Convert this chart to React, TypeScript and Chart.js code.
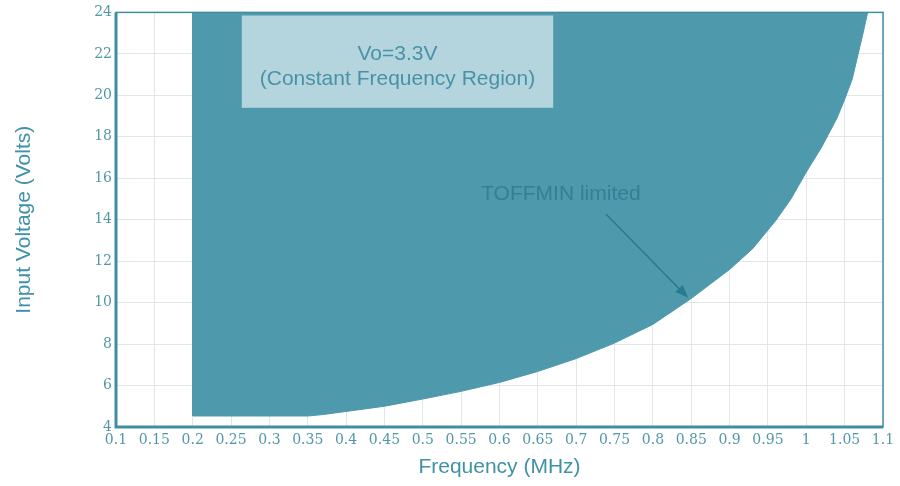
import React, { useEffect, useRef } from 'react';
import { Chart, registerables } from 'chart.js';

Chart.register(...registerables);

// Boundary of the allowed operating region (frequency in MHz, input voltage in V)
const boundaryFreq = [0.2, 0.2, 0.35, 0.37, 0.4, 0.45, 0.5, 0.55, 0.6, 0.65, 0.7, 0.75, 0.8, 0.85, 0.9, 0.93, 0.96, 0.98, 1.0, 1.02, 1.04, 1.05, 1.06, 1.067, 1.074, 1.08];
const boundaryVolt = [24, 4.53, 4.53, 4.6, 4.75, 5.0, 5.35, 5.72, 6.15, 6.68, 7.3, 8.05, 8.95, 10.2, 11.6, 12.6, 13.95, 15.0, 16.3, 17.5, 18.9, 19.8, 20.8, 21.9, 23.0, 24];

const xTickValues = [0.1, 0.15, 0.2, 0.25, 0.3, 0.35, 0.4, 0.45, 0.5, 0.55, 0.6, 0.65, 0.7, 0.75, 0.8, 0.85, 0.9, 0.95, 1, 1.05, 1.1];
const xTickLabels = ['0.1', '0.15', '0.2', '0.25', '0.3', '0.35', '0.4', '0.45', '0.5', '0.55', '0.6', '0.65', '0.7', '0.75', '0.8', '0.85', '0.9', '0.95', '1', '1.05', '1.1'];
const yTickValues = [4, 6, 8, 10, 12, 14, 16, 18, 20, 22, 24];
const yTickLabels = ['4', '6', '8', '10', '12', '14', '16', '18', '20', '22', '24'];

const boxLines = ['Vo=3.3V', '(Constant Frequency Region)'];
const arrowLabel = 'TOFFMIN limited';

// annotation anchors, in data coordinates
const boxFreq = [0.264, 0.67];
const boxVolt = [19.4, 23.85];
const boxTextFreq = 0.467;
const boxTextVolt = [22.0, 20.8];
const arrowLabelPos = [0.68, 15.22];
const arrowFrom = [0.739, 14.26];
const arrowTo = [0.846, 10.23];

const FILL = 'rgb(79,153,173)';
const AXIS = 'rgb(64,140,162)';
const TICK = 'rgb(82,150,170)';
const TITLE = 'rgb(62,145,168)';
const GRID = 'rgb(224,231,234)';

const annotationPlugin = {
  id: 'annot',
  afterDatasetsDraw(chart: any) {
    const { ctx, chartArea, scales } = chart;
    const xs = scales.x;
    const ys = scales.y;
    ctx.save();
    ctx.strokeStyle = AXIS;
    ctx.lineWidth = 1.5;
    ctx.strokeRect(chartArea.left, chartArea.top, chartArea.right - chartArea.left, chartArea.bottom - chartArea.top);
    ctx.lineWidth = 3;
    ctx.beginPath();
    ctx.moveTo(chartArea.left, chartArea.top);
    ctx.lineTo(chartArea.left, chartArea.bottom);
    ctx.lineTo(chartArea.right, chartArea.bottom);
    ctx.stroke();

    const bx1 = xs.getPixelForValue(boxFreq[0]);
    const bx2 = xs.getPixelForValue(boxFreq[1]);
    const by1 = ys.getPixelForValue(boxVolt[1]);
    const by2 = ys.getPixelForValue(boxVolt[0]);
    ctx.fillStyle = 'rgb(181,213,222)';
    ctx.fillRect(bx1, by1, bx2 - bx1, by2 - by1);
    ctx.fillStyle = 'rgb(72,146,167)';
    ctx.font = '21px "Liberation Sans", Arial, sans-serif';
    ctx.textAlign = 'center';
    ctx.textBaseline = 'middle';
    boxLines.forEach((t, i) => {
      ctx.fillText(t, xs.getPixelForValue(boxTextFreq), ys.getPixelForValue(boxTextVolt[i]));
    });

    ctx.fillStyle = 'rgb(50,128,150)';
    ctx.fillText(arrowLabel, xs.getPixelForValue(arrowLabelPos[0]), ys.getPixelForValue(arrowLabelPos[1]));

    const ax1 = xs.getPixelForValue(arrowFrom[0]);
    const ay1 = ys.getPixelForValue(arrowFrom[1]);
    const ax2 = xs.getPixelForValue(arrowTo[0]);
    const ay2 = ys.getPixelForValue(arrowTo[1]);
    const ang = Math.atan2(ay2 - ay1, ax2 - ax1);
    const headLen = 13;
    const headW = 5;
    ctx.strokeStyle = 'rgb(40,122,145)';
    ctx.fillStyle = 'rgb(40,122,145)';
    ctx.lineWidth = 1.5;
    ctx.beginPath();
    ctx.moveTo(ax1, ay1);
    ctx.lineTo(ax2 - Math.cos(ang) * headLen * 0.8, ay2 - Math.sin(ang) * headLen * 0.8);
    ctx.stroke();
    ctx.beginPath();
    ctx.moveTo(ax2, ay2);
    ctx.lineTo(ax2 - Math.cos(ang) * headLen - Math.sin(ang) * headW, ay2 - Math.sin(ang) * headLen + Math.cos(ang) * headW);
    ctx.lineTo(ax2 - Math.cos(ang) * headLen + Math.sin(ang) * headW, ay2 - Math.sin(ang) * headLen - Math.cos(ang) * headW);
    ctx.closePath();
    ctx.fill();
    ctx.restore();
  },
};

export default function App() {
  const ref = useRef<HTMLCanvasElement | null>(null);
  useEffect(() => {
    if (!ref.current) return;
    const data = boundaryFreq.map((f, i) => ({ x: f, y: boundaryVolt[i] }));
    const chart = new Chart(ref.current, {
      type: 'scatter',
      data: {
        datasets: [
          {
            data,
            showLine: true,
            fill: 'end',
            backgroundColor: FILL,
            borderColor: FILL,
            borderWidth: 1,
            pointRadius: 0,
            tension: 0,
          } as any,
        ],
      },
      options: {
        responsive: false,
        animation: false,
        layout: { padding: { left: 0, right: 17, top: 9, bottom: 0 } },
        plugins: { legend: { display: false }, tooltip: { enabled: false } },
        scales: {
          x: {
            type: 'linear',
            min: 0.1,
            max: 1.1,
            afterBuildTicks: (s: any) => {
              s.ticks = xTickValues.map((v) => ({ value: v }));
            },
            afterFit: (s: any) => {
              s.height = 59;
            },
            ticks: {
              callback: (_v: any, i: number) => xTickLabels[i],
              font: { family: '"DejaVu Serif", serif', size: 14 },
              color: TICK,
              padding: 5,
              maxRotation: 0,
              autoSkip: false,
            },
            grid: { color: GRID, drawTicks: false, lineWidth: 1 },
            border: { display: false },
            title: {
              display: true,
              text: 'Frequency (MHz)',
              font: { family: '"Liberation Sans", Arial, sans-serif', size: 21 },
              color: TITLE,
              padding: { top: 0, bottom: 6 },
            },
          },
          y: {
            type: 'linear',
            min: 4,
            max: 24,
            afterBuildTicks: (s: any) => {
              s.ticks = yTickValues.map((v) => ({ value: v }));
            },
            afterFit: (s: any) => {
              s.width = 116;
            },
            ticks: {
              callback: (_v: any, i: number) => yTickLabels[i],
              font: { family: '"DejaVu Serif", serif', size: 14 },
              color: TICK,
              padding: 4,
              autoSkip: false,
            },
            grid: { color: GRID, drawTicks: false, lineWidth: 1 },
            border: { display: false },
            title: {
              display: true,
              text: 'Input Voltage (Volts)',
              font: { family: '"Liberation Sans", Arial, sans-serif', size: 21 },
              color: TITLE,
              padding: { top: 12, bottom: 0 },
            },
          },
        },
      },
      plugins: [annotationPlugin],
    });
    return () => chart.destroy();
  }, []);
  return (
    <div style={{ position: 'absolute', left: 0, top: 0, width: 900, height: 486, background: '#fff' }}>
      <canvas ref={ref} width={900} height={486} />
    </div>
  );
}
